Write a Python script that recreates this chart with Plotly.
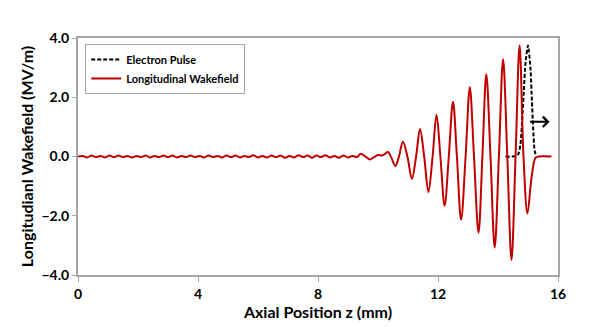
import plotly.graph_objects as go

# ---- data ----
# low-level noise ahead of the wake (z in mm, field in MV/m)
noise_z = [0.00, 0.15, 0.30, 0.45, 0.60, 0.75, 0.90, 1.05, 1.20, 1.35, 1.50, 1.65,
           1.80, 1.95, 2.10, 2.25, 2.40, 2.55, 2.70, 2.85, 3.00, 3.15, 3.30, 3.45,
           3.60, 3.75, 3.90, 4.05, 4.20, 4.35, 4.50, 4.65, 4.80, 4.95, 5.10, 5.25,
           5.40, 5.55, 5.70, 5.85, 6.00, 6.15, 6.30, 6.45, 6.60, 6.75, 6.90, 7.05,
           7.20, 7.35, 7.50, 7.65, 7.80, 7.95, 8.10, 8.25, 8.40, 8.55, 8.70, 8.85,
           9.00, 9.15]
noise_v = [0.00, 0.02, -0.03, 0.03, -0.02, 0.02, -0.03, 0.03, -0.02, 0.03, -0.02, 0.02,
           -0.03, 0.02, -0.02, 0.03, -0.03, 0.02, -0.02, 0.03, -0.02, 0.03, -0.03, 0.02,
           -0.02, 0.03, -0.02, 0.02, -0.03, 0.03, -0.02, 0.02, -0.03, 0.03, -0.02, 0.03,
           -0.03, 0.02, -0.02, 0.04, -0.03, 0.02, -0.03, 0.03, -0.02, 0.03, -0.04, 0.02,
           -0.03, 0.04, -0.02, 0.03, -0.04, 0.03, -0.02, 0.04, -0.03, 0.02, -0.04, 0.03,
           -0.03, 0.02]
# wake oscillation: extrema and crossings
wake_z = [9.30, 9.43, 9.58, 9.73, 9.87, 10.00, 10.12, 10.22, 10.33, 10.45, 10.58,
          10.70, 10.83, 10.98, 11.13, 11.27, 11.40, 11.54, 11.68, 11.82, 11.95,
          12.08, 12.22, 12.36, 12.50, 12.63, 12.77, 12.92, 13.06, 13.20, 13.35,
          13.48, 13.61, 13.75, 13.89, 14.03, 14.17, 14.31, 14.45, 14.585, 14.72,
          14.85, 14.98, 15.12, 15.25, 15.35, 15.78]
wake_v = [-0.02, 0.09, 0.00, -0.10, -0.02, 0.05, 0.03, 0.08, 0.15, -0.05, -0.32,
          0.00, 0.50, 0.00, -0.75, 0.00, 0.93, 0.00, -1.20, 0.00, 1.41,
          0.00, -1.66, 0.00, 1.85, 0.00, -2.13, 0.00, 2.34, 0.00, -2.57,
          0.00, 2.78, 0.00, -3.07, 0.00, 3.28, 0.00, -3.49, 0.00, 3.75,
          0.00, -1.92, -0.70, -0.05, 0.00, 0.00]
# electron pulse profile
pulse_z = [14.25, 14.50, 14.67, 14.75, 14.81, 14.86, 14.92, 15.00, 15.08, 15.13,
           15.17, 15.22, 15.28]
pulse_v = [0.00, 0.00, 0.07, 0.43, 1.32, 2.20, 3.20, 3.75, 3.00, 1.88,
           0.99, 0.20, 0.00]
# propagation arrow (start/end in data units)
arrow_start = (15.02, 1.17)
arrow_end = (15.72, 1.17)

x_ticks = [0, 4, 8, 12, 16]
y_ticks = [-4, -2, 0, 2, 4]

wake_x = noise_z + wake_z
wake_y = noise_v + wake_v

FONT = "Lato"
GRAY = "#A6A6A6"

fig = go.Figure()
fig.add_trace(go.Scatter(
    x=pulse_z, y=pulse_v, mode="lines", name="Electron Pulse",
    line=dict(color="black", width=2, dash="4px,2px", shape="spline", smoothing=0.6),
))
fig.add_trace(go.Scatter(
    x=wake_x, y=wake_y, mode="lines", name="Longitudinal Wakefield",
    line=dict(color="#C00000", width=2, shape="spline", smoothing=1.0),
))

fig.add_annotation(
    x=arrow_end[0], y=arrow_end[1], ax=arrow_start[0], ay=arrow_start[1],
    xref="x", yref="y", axref="x", ayref="y", text="", showarrow=True,
    arrowhead=4, arrowsize=1, arrowwidth=2, arrowcolor="black",
)

fig.update_layout(
    width=600, height=327,
    margin=dict(l=78, r=42, t=38, b=50),
    paper_bgcolor="white", plot_bgcolor="white",
    font=dict(family=FONT, color="black"),
    showlegend=True,
    legend=dict(
        x=0.015, y=0.975, xanchor="left", yanchor="top",
        bgcolor="white", bordercolor=GRAY, borderwidth=1,
        font=dict(family=FONT, size=11, color="black", weight="bold"),
        tracegroupgap=0, itemwidth=30,
    ),
    xaxis=dict(
        range=[0, 16], tickvals=x_ticks, ticktext=[str(v) for v in x_ticks],
        showgrid=False, zeroline=False,
        showline=True, linecolor=GRAY, linewidth=2, mirror=True,
        ticks="outside", ticklen=5, tickcolor=GRAY, tickwidth=1,
        tickfont=dict(family=FONT, size=14, weight="bold"),
        title=dict(text="Axial Position z (mm)", standoff=2,
                   font=dict(family=FONT, size=16, weight="bold")),
    ),
    yaxis=dict(
        range=[-4, 4], tickvals=y_ticks, tickformat=".1f",
        showgrid=False, zeroline=False,
        showline=True, linecolor=GRAY, linewidth=2, mirror=True,
        ticks="outside", ticklen=4, tickcolor=GRAY, tickwidth=1,
        tickfont=dict(family=FONT, size=14, weight="bold"),
        title=dict(text="Longitudianl Wakefield (MV/m)", standoff=4,
                   font=dict(family=FONT, size=16, weight="bold")),
    ),
)

fig.write_html("out.html")
